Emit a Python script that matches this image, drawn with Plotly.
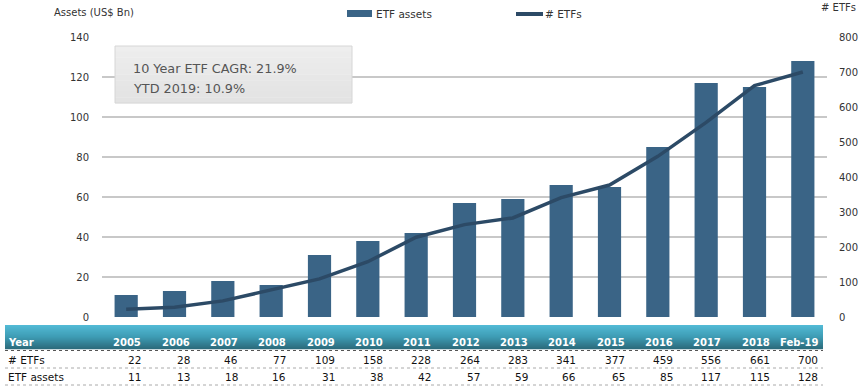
import plotly.graph_objects as go

years = ["2005", "2006", "2007", "2008", "2009", "2010", "2011", "2012",
         "2013", "2014", "2015", "2016", "2017", "2018", "Feb-19"]
num_etfs = [22, 28, 46, 77, 109, 158, 228, 264, 283, 341, 377, 459, 556, 661, 700]
etf_assets = [11, 13, 18, 16, 31, 38, 42, 57, 59, 66, 65, 85, 117, 115, 128]
left_ticks = [0, 20, 40, 60, 80, 100, 120, 140]
right_ticks = [0, 100, 200, 300, 400, 500, 600, 700, 800]
box_lines = ["10 Year ETF CAGR: 21.9%", "YTD 2019: 10.9%"]

W, H = 859, 390
L, R, T, B = 102, 827, 37, 317  # plot area in pixels
FONT = "DejaVu Sans"
BAR_C = "#3A6486"
LINE_C = "#2C4A66"
TXT = "#333333"


def px(x):
    return (x - L) / (R - L)


def py(y):
    return (B - y) / (B - T)


fig = go.Figure()
fig.add_trace(go.Bar(x=years, y=etf_assets, name="ETF assets",
                     marker=dict(color=BAR_C, line=dict(width=0)),
                     yaxis="y", hoverinfo="x+y"))
fig.add_trace(go.Scatter(x=years, y=num_etfs, name="# ETFs", mode="lines",
                         line=dict(color=LINE_C, width=3.5),
                         yaxis="y2", hoverinfo="x+y"))

shapes = []
annotations = []

# annotation box (slight gradient)
box_x0, box_x1, box_y0, box_y1 = 115, 352, 46, 103
nb = 10
for i in range(nb):
    v = int(0xEE - (0xEE - 0xE3) * i / (nb - 1))
    ya = box_y0 + (box_y1 - box_y0) * i / nb
    yb = box_y0 + (box_y1 - box_y0) * (i + 1) / nb
    shapes.append(dict(type="rect", xref="paper", yref="paper",
                       x0=px(box_x0), x1=px(box_x1), y0=py(yb + 0.3), y1=py(ya),
                       fillcolor="rgb(%d,%d,%d)" % (v, v, v), line=dict(width=0),
                       layer="above"))
shapes.append(dict(type="rect", xref="paper", yref="paper",
                   x0=px(box_x0), x1=px(box_x1), y0=py(box_y1), y1=py(box_y0),
                   fillcolor="rgba(0,0,0,0)", line=dict(color="#d6d6d6", width=1),
                   layer="above"))
for i, t in enumerate(box_lines):
    annotations.append(dict(text=t, xref="paper", yref="paper",
                            x=px(131), y=py(68 + i * 20.5), xanchor="left",
                            yanchor="middle", showarrow=False,
                            font=dict(family=FONT, size=12.8, color="#555555")))

# legend
shapes.append(dict(type="rect", xref="paper", yref="paper",
                   x0=px(347), x1=px(372), y0=py(17), y1=py(10),
                   fillcolor=BAR_C, line=dict(width=0)))
annotations.append(dict(text="ETF assets", xref="paper", yref="paper",
                        x=px(374), y=py(14), xanchor="left", yanchor="middle",
                        showarrow=False, font=dict(family=FONT, size=10.5, color=TXT)))
shapes.append(dict(type="line", xref="paper", yref="paper",
                   x0=px(516), x1=px(543), y0=py(14), y1=py(14),
                   line=dict(color=LINE_C, width=4)))
annotations.append(dict(text="# ETFs", xref="paper", yref="paper",
                        x=px(543), y=py(14), xanchor="left", yanchor="middle",
                        showarrow=False, font=dict(family=FONT, size=10.5, color=TXT)))

# axis titles
annotations.append(dict(text="Assets (US$ Bn)", xref="paper", yref="paper",
                        x=px(52), y=py(12), xanchor="left", yanchor="middle",
                        showarrow=False, font=dict(family=FONT, size=10, color=TXT)))
annotations.append(dict(text="# ETFs", xref="paper", yref="paper",
                        x=px(858), y=py(8), xanchor="right", yanchor="middle",
                        showarrow=False, font=dict(family=FONT, size=10, color=TXT)))

# table header band (gradient)
top_c = (0x52, 0xBA, 0xD5)
mid_c = (0x3E, 0x9C, 0xB4)
bot_c = (0x2C, 0x6C, 0x7D)
band_top, band_bot = 325, 349
n = 24
for i in range(n):
    f = i / (n - 1)
    if f < 0.5:
        g = f / 0.5
        c = tuple(int(top_c[k] + (mid_c[k] - top_c[k]) * g) for k in range(3))
    else:
        g = (f - 0.5) / 0.5
        c = tuple(int(mid_c[k] + (bot_c[k] - mid_c[k]) * g) for k in range(3))
    y0 = band_top + (band_bot - band_top) * i / n
    y1 = band_top + (band_bot - band_top) * (i + 1) / n
    shapes.append(dict(type="rect", xref="paper", yref="paper",
                       x0=px(5), x1=px(823), y0=py(y1 + 0.3), y1=py(y0),
                       fillcolor="rgb(%d,%d,%d)" % c, line=dict(width=0)))

# dotted separators
for yy, col in [(350.5, "#555555"), (368, "#aaaaaa"), (385, "#aaaaaa")]:
    shapes.append(dict(type="line", xref="paper", yref="paper",
                       x0=px(5), x1=px(823), y0=py(yy), y1=py(yy),
                       line=dict(color=col, width=1, dash="dot")))

row_y = [342, 359.5, 376.5]
row_labels = ["Year", "# ETFs", "ETF assets"]
for lab, yy in zip(row_labels, row_y):
    bold = lab == "Year"
    annotations.append(dict(text=("<b>%s</b>" % lab) if bold else lab,
                            xref="paper", yref="paper", x=px(6), y=py(yy),
                            xanchor="left", yanchor="middle", showarrow=False,
                            font=dict(family=FONT, size=10 if bold else 10.5,
                                      color="white" if bold else "#111111")))

for j, yr in enumerate(years):
    vals = ["<b>%s</b>" % yr, str(num_etfs[j]), str(etf_assets[j])]
    for k, (v, yy) in enumerate(zip(vals, row_y)):
        annotations.append(dict(text=v, xref="x", yref="paper", x=j, y=py(yy),
                                xanchor="right", yanchor="middle", xshift=17,
                                showarrow=False,
                                font=dict(family=FONT, size=10 if k == 0 else 10.5,
                                          color="white" if k == 0 else "#111111")))

fig.update_layout(
    width=W, height=H,
    margin=dict(l=L, r=W - R, t=T, b=H - B, pad=0, autoexpand=False),
    paper_bgcolor="white", plot_bgcolor="white",
    showlegend=False,
    bargap=0.52,
    xaxis=dict(type="category", range=[-0.5, 14.5], showticklabels=False,
               showgrid=False, zeroline=False, showline=False, fixedrange=True),
    yaxis=dict(range=[0, 140], tickvals=left_ticks, showgrid=True,
               gridcolor="#c8c8c8", gridwidth=1.5, zeroline=False,
               showline=False, ticklabelstandoff=12, automargin=False,
               tickfont=dict(family=FONT, size=10, color=TXT)),
    yaxis2=dict(range=[0, 800], tickvals=right_ticks, overlaying="y",
                side="right", showgrid=False, zeroline=False, showline=False,
                ticklabelstandoff=11, automargin=False,
                tickfont=dict(family=FONT, size=10, color=TXT)),
    shapes=shapes,
    annotations=annotations,
    font=dict(family=FONT),
)

fig.write_html("out.html", config={"displayModeBar": False},
               post_script="document.body.style.margin='0';document.body.style.padding='0';")
